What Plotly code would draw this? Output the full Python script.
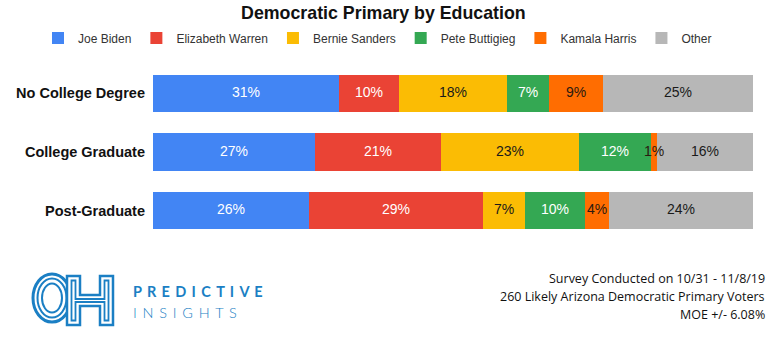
import plotly.graph_objects as go
import numpy as np

categories = ["No College Degree", "College Graduate", "Post-Graduate"]
series_names = ["Joe Biden", "Elizabeth Warren", "Bernie Sanders", "Pete Buttigieg", "Kamala Harris", "Other"]
biden = [31, 27, 26]
warren = [10, 21, 29]
sanders = [18, 23, 7]
buttigieg = [7, 12, 10]
harris = [9, 1, 4]
other = [25, 16, 24]
values = [biden, warren, sanders, buttigieg, harris, other]
colors = ["#4285F4", "#EA4335", "#FBBC04", "#34A853", "#FF6D01", "#B7B7B7"]
text_colors = ["#ffffff", "#ffffff", "#1a1a1a", "#ffffff", "#2a1a10", "#1a1a1a"]

W, H = 784, 338
L, R, T, B = 153, 753, 64, 240

def px(x):
    return (x - L) / (R - L)

def py(y):
    return (B - y) / (B - T)

fig = go.Figure()
cum = np.zeros(len(categories))
for name, vals, col in zip(series_names, values, colors):
    fig.add_trace(go.Bar(
        y=categories, x=vals, name=name, orientation="h",
        marker=dict(color=col, line=dict(width=0)),
        hoverinfo="skip",
    ))
for name, vals, tcol in zip(series_names, values, text_colors):
    v = np.array(vals, dtype=float)
    mids = cum + v / 2
    cum = cum + v
    fig.add_trace(go.Scatter(
        y=categories, x=mids, mode="text",
        text=[f"{int(a)}%" for a in vals],
        textfont=dict(color=tcol, size=14, family="Liberation Sans, Arial"),
        showlegend=False, hoverinfo="skip",
    ))

shapes = []
blue = "#1b7fc4"
# O of logo: concentric ellipses
cx, cy = 52, 298
for rx, ry, w in [(19, 24, 3), (14.5, 19.5, 2), (10, 14.5, 2)]:
    shapes.append(dict(type="circle", xref="paper", yref="paper",
                       x0=px(cx - rx), x1=px(cx + rx), y0=py(cy + ry), y1=py(cy - ry),
                       line=dict(color=blue, width=w)))

def path(pts, close=True):
    s = "M" + " L".join(f"{px(a):.5f},{py(b):.5f}" for a, b in pts)
    return s + (" Z" if close else "")

Hpts = [(67, 276), (80, 276), (80, 295), (100, 295), (100, 276), (113, 276), (113, 325),
        (100, 325), (100, 306), (80, 306), (80, 325), (67, 325)]
shapes.append(dict(type="path", xref="paper", yref="paper", path=path(Hpts),
                   fillcolor="white", line=dict(color=blue, width=2.5)))
Hmid = [(71.5, 280.5), (75.5, 280.5), (75.5, 299), (104.5, 299), (104.5, 280.5), (108.5, 280.5),
        (108.5, 320.5), (104.5, 320.5), (104.5, 302), (75.5, 302), (75.5, 320.5), (71.5, 320.5)]
shapes.append(dict(type="path", xref="paper", yref="paper", path=path(Hmid),
                   line=dict(color=blue, width=1.8)))

sp = " \u2009"
annotations = [
    dict(x=px(131), y=py(291), xref="paper", yref="paper", xanchor="left", yanchor="middle",
         text=sp.join("PREDICTIVE"), showarrow=False,
         font=dict(family="Lato, Liberation Sans", size=14.5, color=blue, weight="bold")),
    dict(x=px(131), y=py(312), xref="paper", yref="paper", xanchor="left", yanchor="middle",
         text=sp.join("INSIGHTS"), showarrow=False,
         font=dict(family="Lato, Liberation Sans", size=14.5, color=blue, weight=300)),
]
foot = ["Survey Conducted on 10/31 - 11/8/19",
        "260 Likely Arizona Democratic Primary Voters",
        "MOE +/- 6.08%"]
for i, t in enumerate(foot):
    annotations.append(dict(x=px(767), y=py(278 + 18 * i), xref="paper", yref="paper",
                            xanchor="right", yanchor="middle", text=t, showarrow=False,
                            font=dict(family="Open Sans, Liberation Sans", size=12.5, color="#111111")))

fig.update_layout(
    width=W, height=H,
    margin=dict(l=L, r=W - R, t=T, b=H - B, pad=0, autoexpand=False),
    barmode="stack", bargap=0.36,
    plot_bgcolor="white", paper_bgcolor="white",
    title=dict(text="<b>Democratic Primary by Education</b>", x=0.489, xanchor="center",
               y=1 - 13 / H, yanchor="middle", yref="container",
               font=dict(family="Liberation Sans, Arial", size=17.8, color="#111111")),
    legend=dict(orientation="h", x=px(38), xref="paper", xanchor="left",
                y=py(38), yref="paper", yanchor="middle",
                font=dict(family="Liberation Sans, Arial", size=12, color="#333333"),
                tracegroupgap=0, traceorder="normal", itemwidth=30),
    xaxis=dict(range=[0, 100], visible=False, fixedrange=True),
    yaxis=dict(autorange="reversed", showgrid=False, zeroline=False, showline=False,
               ticks="", ticklabelstandoff=7, automargin=False,
               tickfont=dict(family="Liberation Sans, Arial", size=14.5, color="#111111", weight="bold")),
    shapes=shapes, annotations=annotations, showlegend=True,
)
fig.write_html("out.html")
